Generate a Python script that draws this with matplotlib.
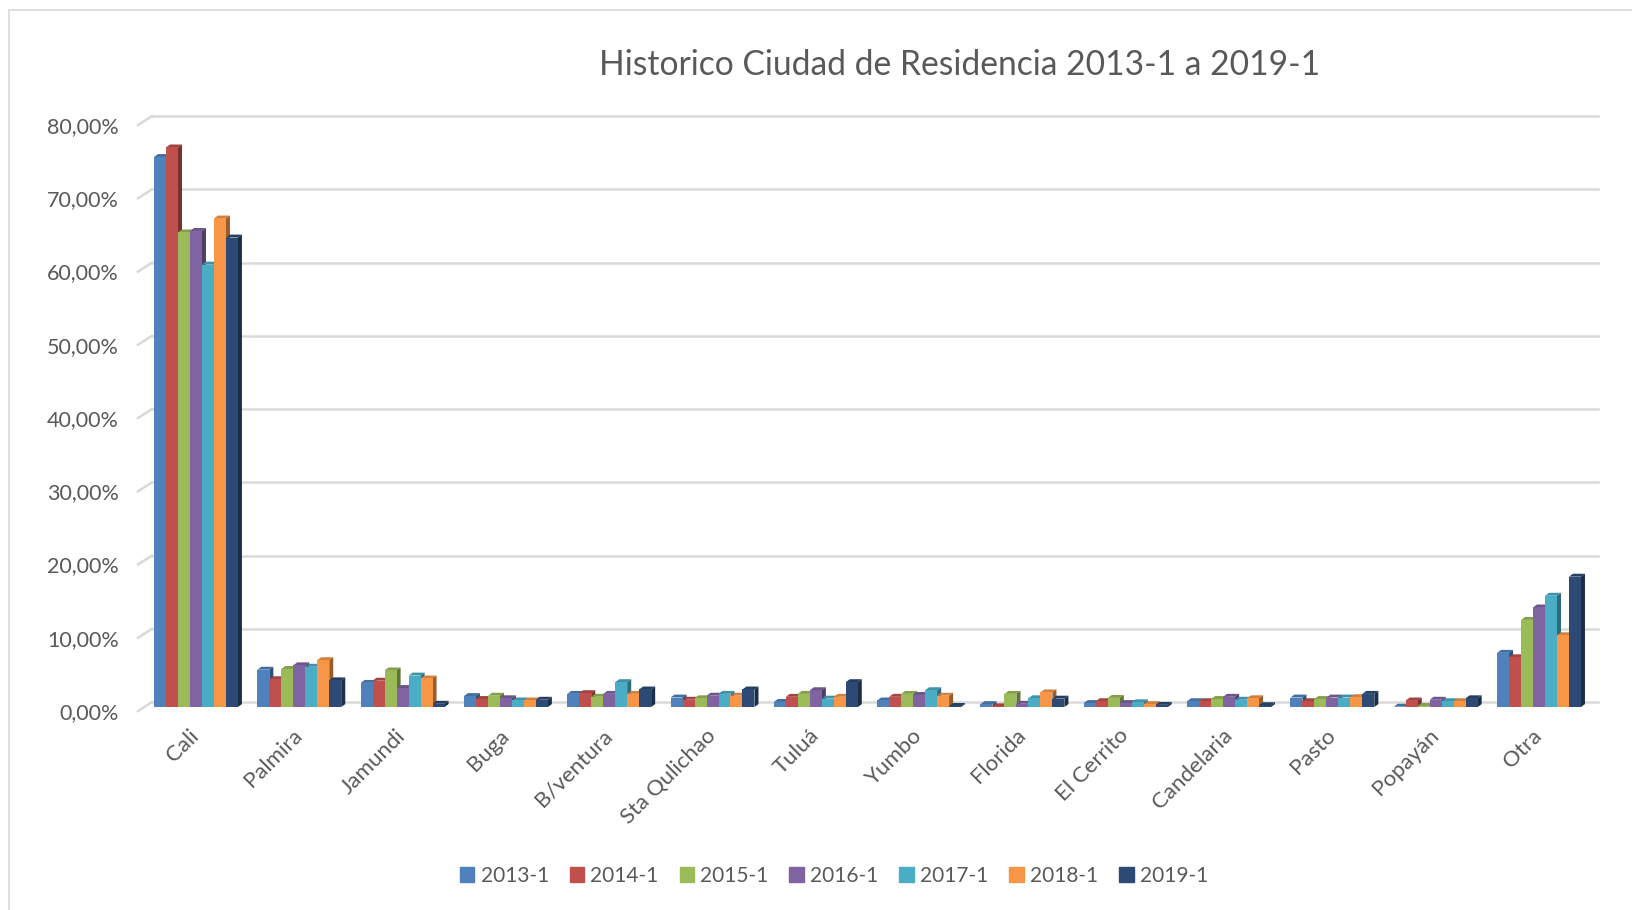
import matplotlib
matplotlib.use('Agg')
import matplotlib.pyplot as plt
from matplotlib.patches import Polygon, Rectangle
from matplotlib.colors import to_rgb
import matplotlib.transforms as mtransforms
import numpy as np

plt.rcParams['font.family'] = ['Lato', 'DejaVu Sans']

ciudades = ['Cali', 'Palmira', 'Jamundi', 'Buga', 'B/ventura', 'Sta Qulichao', 'Tuluá',
            'Yumbo', 'Florida', 'El Cerrito', 'Candelaria', 'Pasto', 'Popayán', 'Otra']
periodos = ['2013-1', '2014-1', '2015-1', '2016-1', '2017-1', '2018-1', '2019-1']
colores = ['#4F81BD', '#C0504D', '#9BBB59', '#8064A2', '#4BACC6', '#F79646', '#2C4A74']

# porcentajes
v2013 = [75.1, 5.1, 3.3, 1.5, 1.8, 1.3, 0.7, 0.9, 0.4, 0.55, 0.8, 1.3, 0.05, 7.4]
v2014 = [76.4, 3.8, 3.6, 1.1, 1.9, 1.0, 1.4, 1.4, 0.1, 0.8, 0.8, 0.8, 0.9, 6.8]
v2015 = [64.8, 5.2, 5.0, 1.55, 1.4, 1.2, 1.8, 1.8, 1.8, 1.25, 1.1, 1.1, 0.15, 11.9]
v2016 = [65.0, 5.7, 2.6, 1.2, 1.8, 1.55, 2.3, 1.65, 0.45, 0.55, 1.4, 1.3, 1.0, 13.6]
v2017 = [60.4, 5.5, 4.3, 0.9, 3.4, 1.8, 1.15, 2.3, 1.2, 0.65, 1.0, 1.3, 0.8, 15.2]
v2018 = [66.7, 6.4, 3.9, 0.9, 1.8, 1.55, 1.4, 1.55, 2.0, 0.4, 1.2, 1.35, 0.8, 9.8]
v2019 = [64.1, 3.65, 0.45, 1.0, 2.4, 2.4, 3.4, 0.15, 1.15, 0.3, 0.25, 1.8, 1.2, 17.8]
series = [v2013, v2014, v2015, v2016, v2017, v2018, v2019]

yticks = [0, 10, 20, 30, 40, 50, 60, 70, 80]


def oscuro(c, f):
    r, g, b = to_rgb(c)
    return (r * f, g * f, b * f)


fig = plt.figure(figsize=(16.32, 9.1), dpi=100)
ax = fig.add_axes([0.0931, 0.2182, 0.8860, 0.6544])
ax.set_xlim(-0.426, 13.57)
ax.set_ylim(-0.6, 80.7)

# marco del grafico
fig.patches.append(Rectangle((9 / 1632, -0.05), 1.2, 0.989 + 0.05, transform=fig.transFigure,
                             fill=False, edgecolor='#D9D9D9', lw=1.2))

x = np.arange(len(ciudades))
w = 0.116
ddx = 0.039   # profundidad 3D
ddy = 0.40
gx = 0.135    # pared lateral
gback = 0.68
gfront = -0.55

for v in yticks:
    ax.plot([ax.get_xlim()[0], ax.get_xlim()[1]], [v + gback, v + gback], color='#D9D9D9', lw=1.8,
            zorder=0, clip_on=False)
    ax.plot([ax.get_xlim()[0] - gx, ax.get_xlim()[0]], [v + gfront, v + gback], color='#D9D9D9', lw=1.8,
            zorder=0, clip_on=False)

for j, (vals, col) in enumerate(zip(series, colores)):
    xs = x + (j - 3) * w
    ax.bar(xs, vals, width=w, color=col, zorder=3, linewidth=0)
    for xi, h in zip(xs, vals):
        l, r = xi - w / 2, xi + w / 2
        top = Polygon([(l, h), (l + ddx, h + ddy), (r + ddx, h + ddy), (r, h)],
                      closed=True, facecolor=oscuro(col, 0.85), edgecolor='none', zorder=2)
        side = Polygon([(r, 0), (r + ddx, ddy), (r + ddx, h + ddy), (r, h)],
                       closed=True, facecolor=oscuro(col, 0.62), edgecolor='none', zorder=2)
        ax.add_patch(top)
        ax.add_patch(side)

ax.set_yticks([v + gfront for v in yticks])
ax.set_yticklabels(['%d,00%%' % v for v in yticks], fontsize=15.5, color='#595959')
ax.tick_params(axis='y', length=0, pad=24)
ax.set_xticks(x)
ax.set_xticklabels(ciudades, rotation=45, ha='right', rotation_mode='anchor', fontsize=16,
                   color='#595959')
ax.tick_params(axis='x', length=0, pad=10)
desplaza = mtransforms.ScaledTranslation(-7 / 100, 0, fig.dpi_scale_trans)
for lab in ax.get_xticklabels():
    lab.set_transform(lab.get_transform() + desplaza)
for s in ax.spines.values():
    s.set_visible(False)

fig.text(0.588, 0.929, 'Historico Ciudad de Residencia 2013-1 a 2019-1', ha='center', va='center',
         fontsize=24.2, color='#595959')

handles = [Rectangle((0, 0), 1, 1, color=c) for c in colores]
fig.legend(handles, periodos, loc='center', bbox_to_anchor=(0.511, 0.0374), ncol=7, frameon=False,
           fontsize=15, handlelength=0.7, handleheight=0.7, handletextpad=0.3, columnspacing=1.0,
           labelcolor='#595959')

fig.savefig('out.png', dpi=100, facecolor='white')
